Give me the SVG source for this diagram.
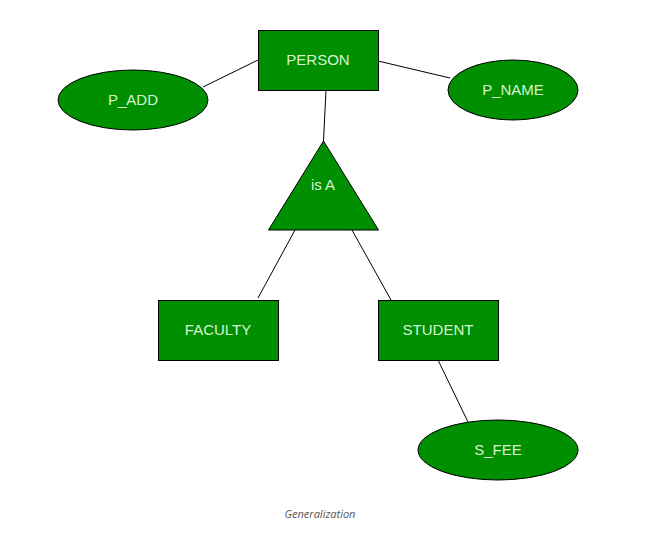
<svg xmlns="http://www.w3.org/2000/svg" width="650" height="536" viewBox="0 0 650 536">
<style>
.n{fill:#008f00;stroke:#000;stroke-width:1}
.t{font-family:"Liberation Sans",Arial,sans-serif;font-size:15px;fill:#d8f5d0;text-anchor:middle;dominant-baseline:central}
.c{stroke:#000;stroke-width:1;fill:none}
.cap{font-family:"Open Sans","Liberation Sans",sans-serif;font-size:11px;font-style:italic;fill:#555;text-anchor:middle}
</style>
<rect width="650" height="536" fill="#fff"/>
<g id="connectors">
<line class="c" x1="258" y1="60" x2="203" y2="87"/>
<line class="c" x1="378" y1="61" x2="450" y2="78"/>
<line class="c" x1="326" y1="90" x2="323.5" y2="141"/>
<line class="c" x1="295" y1="230" x2="258" y2="298"/>
<line class="c" x1="352" y1="230" x2="391" y2="300"/>
<line class="c" x1="438" y1="360" x2="468" y2="422"/>
</g>
<g id="person"><rect class="n" x="258.5" y="30.5" width="120" height="60"/><text class="t" x="318" y="59">PERSON</text></g>
<g id="p_add"><ellipse class="n" cx="133" cy="100" rx="75" ry="30"/><text class="t" x="133" y="99">P_ADD</text></g>
<g id="p_name"><ellipse class="n" cx="513" cy="90" rx="65" ry="30"/><text class="t" x="513" y="89">P_NAME</text></g>
<g id="isa"><polygon class="n" points="323.5,141 268.5,230 378.5,230"/><text class="t" x="323" y="184">is A</text></g>
<g id="faculty"><rect class="n" x="158.5" y="300.5" width="120" height="60"/><text class="t" x="218" y="329">FACULTY</text></g>
<g id="student"><rect class="n" x="378.5" y="300.5" width="120" height="60"/><text class="t" x="438" y="329">STUDENT</text></g>
<g id="s_fee"><ellipse class="n" cx="498" cy="450" rx="80" ry="30"/><text class="t" x="498" y="449">S_FEE</text></g>
<text class="cap" x="320" y="518">Generalization</text>
</svg>
